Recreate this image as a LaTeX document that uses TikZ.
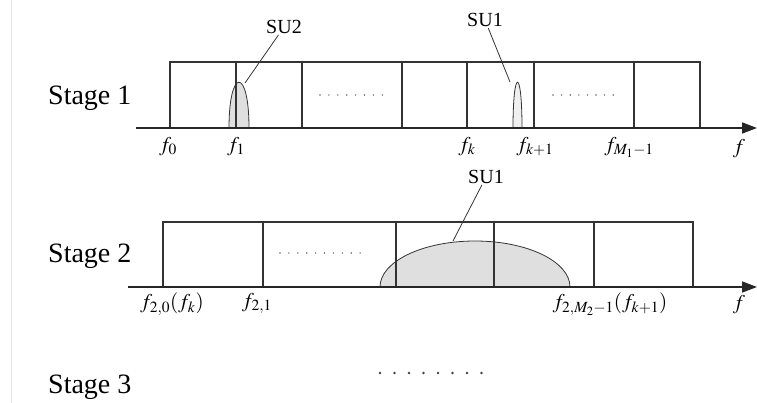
\documentclass[tikz,border=0pt]{standalone}
\usepackage{mathptmx}
\usepackage{fontspec}
\setmainfont{Liberation Serif}
\usetikzlibrary{arrows.meta}

\begin{document}
\begin{tikzpicture}[x=1pt, y=-1pt,
  stage/.style={anchor=base west, inner sep=0pt, font=\fontsize{28}{30}\selectfont},
  lbl/.style={anchor=north, inner sep=0pt, font=\fontsize{21}{23}\selectfont},
  su/.style={inner sep=1pt, font=\fontsize{20}{22}\selectfont},
  band/.style={line width=1.3pt, draw=black!80},
  axis/.style={line width=1.6pt, draw=black!85, -{Triangle[length=15pt, width=11pt]}},
  bump/.style={draw=black!80, line width=0.8pt, fill=gray!25},
  lead/.style={draw=black!80, line width=0.8pt}]
  \useasboundingbox (0,0) rectangle (757,403);
  \draw[gray!20, line width=1pt] (11,0) -- (11,403);
  % stage 1
  \node[stage] (s1) at (48,105) {Stage 1};
  \draw[bump] (229,128) .. controls (229,67) and (249,67) .. (249,128);
  \draw[bump, fill=gray!12] (513,128) .. controls (513,67) and (522,67) .. (522,128);
  \draw[band] (170,128) -- (170,62) -- (700,62) -- (700,128);
  \foreach \x in {236,302,402,467,534,634} \draw[band] (\x,128) -- (\x,62);
  \foreach \i in {0,...,7} {
    \fill[black!60] ({320+\i*8.9},95) circle (0.8);
    \fill[black!60] ({553+\i*8.6},95) circle (0.8);
  }
  \coordinate (a1s) at (136,128);
  \coordinate (a1e) at (757,128);
  \draw[axis] (a1s) -- (a1e);
  \node[su] (su2) at (284,27) {SU2};
  \coordinate (su2p) at (245,83);
  \draw[lead] (su2) -- (su2p);
  \node[su] (su1a) at (485,20) {SU1};
  \coordinate (su1ap) at (510,82);
  \draw[lead] (su1a) -- (su1ap);
  \node[lbl] (f0) at (168,137) {$f_0$};
  \node[lbl] (f1) at (236,137) {$f_1$};
  \node[lbl] (fk) at (467,137) {$f_k$};
  \node[lbl] (fk1) at (535,137) {$f_{k+1}$};
  \node[lbl] (fM1) at (629,137) {$f_{M_1-1}$};
  \node[lbl] (fa1) at (739,139) {$f$};
  % stage 2
  \node[stage] (s2) at (48,262) {Stage 2};
  \draw[bump] (380,287) .. controls (380,261.6) and (422.6,241) .. (475,241)
    .. controls (527.4,241) and (570,261.6) .. (570,287);
  \draw[band] (163,287) -- (163,222) -- (693,222) -- (693,287);
  \foreach \x in {263,396,494,594} \draw[band] (\x,287) -- (\x,222);
  \foreach \i in {0,...,9}
    \fill[black!60] ({280+\i*8.9},253) circle (0.8);
  \coordinate (a2s) at (128,287);
  \coordinate (a2e) at (757,287);
  \draw[axis] (a2s) -- (a2e);
  \node[su] (su1b) at (486,177) {SU1};
  \coordinate (su1bp) at (453,241);
  \draw[lead] (su1b) -- (su1bp);
  \node[lbl] (f20) at (172,293) {$f_{2,0}(f_k)$};
  \node[lbl] (f21) at (257,293) {$f_{2,1}$};
  \node[lbl] (f2M) at (610,293) {$f_{2,M_2-1}(f_{k+1})$};
  \node[lbl] (fa2) at (739,295) {$f$};
  % stage 3
  \node[stage] (s3) at (48,393) {Stage 3};
  \foreach \i in {0,...,7}
    \fill[black!75] ({380+\i*14.5},373) circle (1.4);
\end{tikzpicture}
\end{document}
